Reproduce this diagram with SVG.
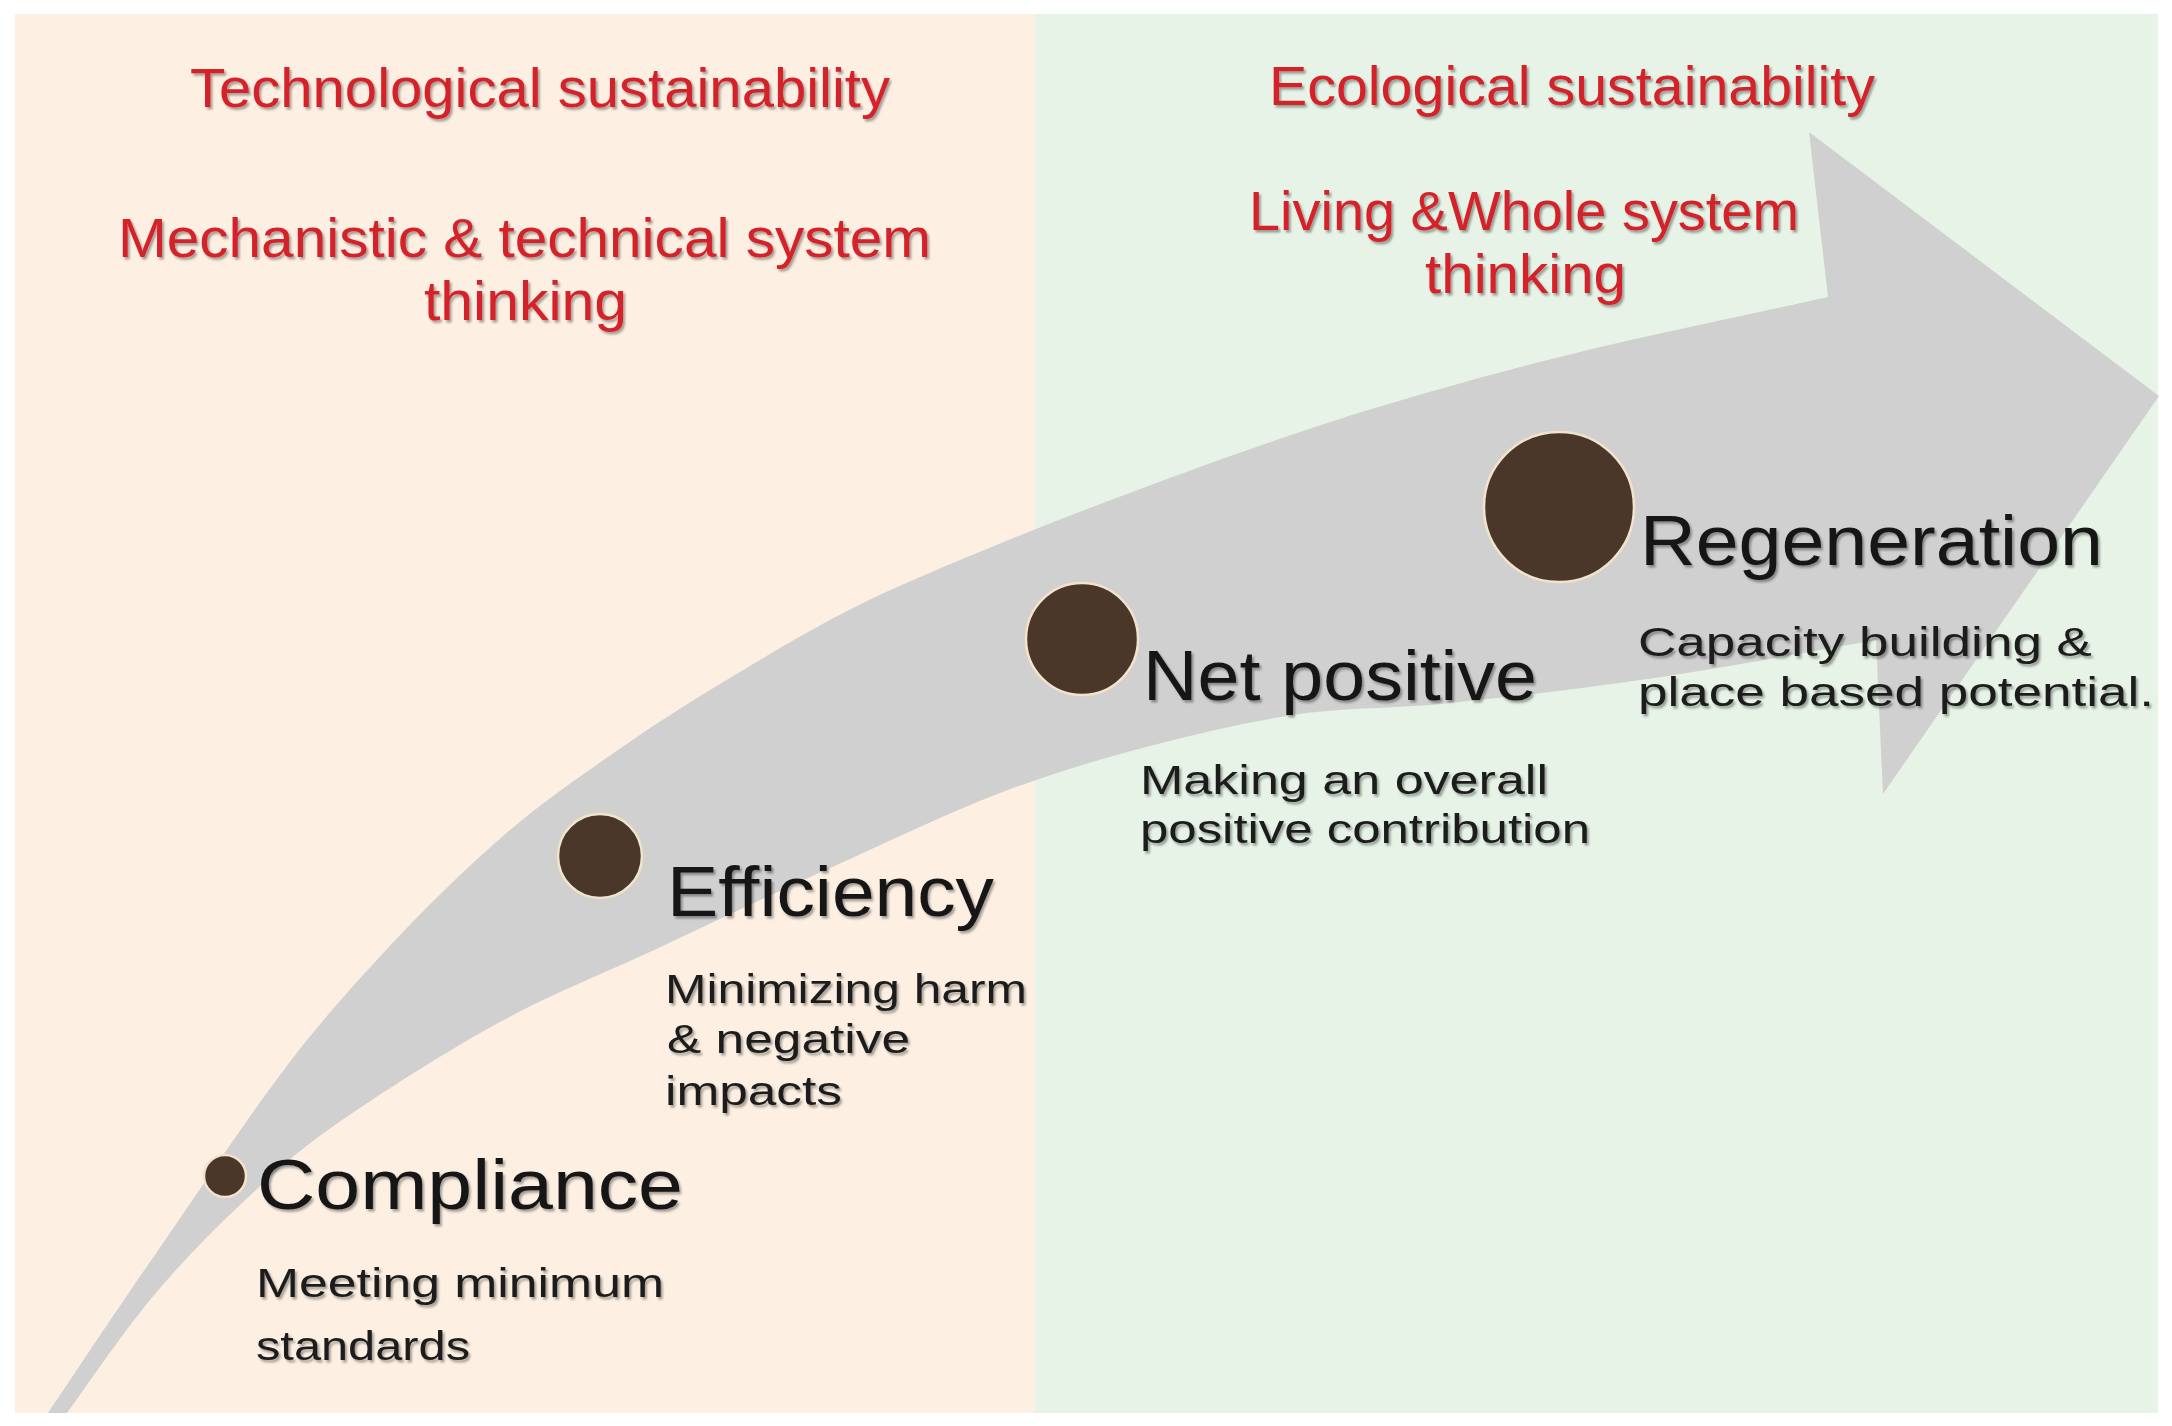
<svg xmlns="http://www.w3.org/2000/svg" width="2172" height="1426" viewBox="0 0 2172 1426">
<defs>
<style>
.red{font-family:"Liberation Sans",Arial,sans-serif;font-size:56px;fill:#D42229;filter:url(#sh)}
.head{font-family:"Liberation Sans",Arial,sans-serif;font-size:70px;fill:#141414;filter:url(#sh)}
.sub{font-family:"Liberation Sans",Arial,sans-serif;font-size:41px;fill:#1e1e1e;filter:url(#sh)}
.dot{fill:#4A3729;stroke:#F3E2CC;stroke-width:2.5}
</style>
<filter id="sh" x="-5%" y="-20%" width="110%" height="150%">
<feDropShadow dx="2" dy="2.5" stdDeviation="1.2" flood-color="#000" flood-opacity="0.35"/>
</filter>
</defs>
<rect x="0" y="0" width="2172" height="1426" fill="#ffffff"/>
<rect id="bg-tech" x="15" y="14" width="1020" height="1399" fill="#FDF0E3"/>
<rect id="bg-eco" x="1035" y="14" width="1123" height="1399" fill="#E6F3E6"/>

<g id="connectors">
<path id="arrow" fill="#D0D0D0" d="M48,1413 C65,1388 111,1318 150,1262 C189,1206 241,1127 280,1075 C319,1023 349,990 386,950 C423,910 465,869 503,836 C541,803 579,777 615,752 C651,727 680,708 720,684 C760,660 805,632 853,608 C901,584 955,562 1006,541 C1057,520 1108,501 1159,482 C1210,463 1261,445 1312,428 C1363,411 1414,396 1465,382 C1516,368 1557.5,357 1618,343 C1678.5,329 1793,305 1828,297 L1809,132 L2159,396 L1883,794 L1876,640 C1837,647 1711,670 1640,680 C1569,690.5 1507,697 1450,703 C1393,709 1350,707 1300,714 C1250,721 1200,733 1150,746 C1100,759 1053,773 1000,793 C947,813 886,843 830,868 C774,893 720,919 665,945 C610,971 555,992 500,1022 C445,1052 378,1095 335,1125 C292,1155 271,1176 240,1205 C209,1234 179,1265 150,1300 C121,1335 81,1394 67,1413 Z"/>
</g>

<g id="tech-labels">
<text class="red" x="190" y="107" textLength="700" lengthAdjust="spacingAndGlyphs">Technological sustainability</text>
<text class="red" x="118" y="257" textLength="813" lengthAdjust="spacingAndGlyphs">Mechanistic &amp; technical system</text>
<text class="red" x="424" y="320" textLength="203" lengthAdjust="spacingAndGlyphs">thinking</text>
</g>
<g id="eco-labels">
<text class="red" x="1269" y="105" textLength="606" lengthAdjust="spacingAndGlyphs">Ecological sustainability</text>
<text class="red" x="1249" y="230" textLength="550" lengthAdjust="spacingAndGlyphs">Living &amp;Whole system</text>
<text class="red" x="1425" y="293" textLength="201" lengthAdjust="spacingAndGlyphs">thinking</text>
</g>

<g id="compliance">
<circle class="dot" cx="225" cy="1176" r="21"/>
<text class="head" x="257" y="1209" textLength="426" lengthAdjust="spacingAndGlyphs">Compliance</text>
<text class="sub" x="256" y="1297" textLength="408" lengthAdjust="spacingAndGlyphs">Meeting minimum</text>
<text class="sub" x="256" y="1360" textLength="214" lengthAdjust="spacingAndGlyphs">standards</text>
</g>

<g id="efficiency">
<circle class="dot" cx="600" cy="856" r="42"/>
<text class="head" x="667" y="916" textLength="327" lengthAdjust="spacingAndGlyphs">Efficiency</text>
<text class="sub" x="665" y="1003" textLength="362" lengthAdjust="spacingAndGlyphs">Minimizing harm</text>
<text class="sub" x="667" y="1053" textLength="243" lengthAdjust="spacingAndGlyphs">&amp; negative</text>
<text class="sub" x="665" y="1105" textLength="177" lengthAdjust="spacingAndGlyphs">impacts</text>
</g>

<g id="net-positive">
<circle class="dot" cx="1082" cy="639" r="56"/>
<text class="head" x="1143" y="700" textLength="394" lengthAdjust="spacingAndGlyphs">Net positive</text>
<text class="sub" x="1140" y="794" textLength="408" lengthAdjust="spacingAndGlyphs">Making an overall</text>
<text class="sub" x="1140" y="843" textLength="450" lengthAdjust="spacingAndGlyphs">positive contribution</text>
</g>

<g id="regeneration">
<circle class="dot" cx="1559" cy="507" r="75"/>
<text class="head" x="1640" y="565" textLength="463" lengthAdjust="spacingAndGlyphs">Regeneration</text>
<text class="sub" x="1638" y="656" textLength="454" lengthAdjust="spacingAndGlyphs">Capacity building &amp;</text>
<text class="sub" x="1638" y="706" textLength="516" lengthAdjust="spacingAndGlyphs">place based potential.</text>
</g>
</svg>
